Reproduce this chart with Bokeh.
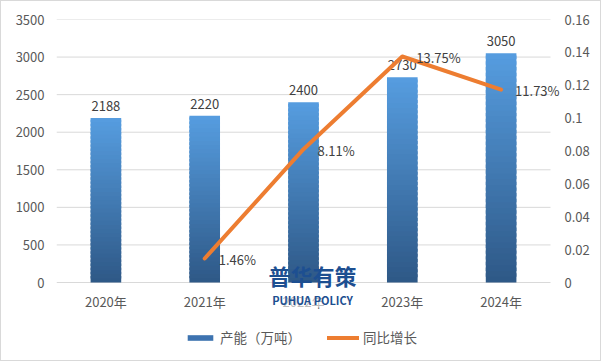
from bokeh.plotting import figure
from bokeh.models import (ColumnDataSource, Range1d, LinearAxis, FixedTicker,
                          Legend, LegendItem, Label)
from bokeh.core.properties import value
from bokeh.embed import file_html
from bokeh.resources import INLINE

# ---- data ----
years = ["2020年", "2021年", "2022年", "2023年", "2024年"]
capacity = [2188, 2220, 2400, 2730, 3050]
growth_years = ["2021年", "2022年", "2023年", "2024年"]
growth = [0.0146, 0.0811, 0.1375, 0.1173]
growth_labels = ["1.46%", "8.11%", "13.75%", "11.73%"]
left_ticks = [0, 500, 1000, 1500, 2000, 2500, 3000, 3500]
right_ticks = [0, 0.02, 0.04, 0.06, 0.08, 0.1, 0.12, 0.14, 0.16]
right_tick_labels = ["0", "0.02", "0.04", "0.06", "0.08", "0.1", "0.12", "0.14", "0.16"]

FONT = "Noto Sans CJK SC"
TICK_COLOR = "#595959"
LABEL_COLOR = "#404040"

# ---- layout constants (pixels) ----
W, H = 601, 361
FL, FR, FT, FB = 55, 560, 18, 356      # frame edges
PLOT_W = 494                          # width used by the 5 categories
PLOT_H = 263                          # height used by the 0..3500 scale
LEFT_MAX, RIGHT_MAX = 3500, 0.16

n = len(years)
xi = list(range(n))
gx = [years.index(y) for y in growth_years]

x_start = -0.5
x_end = x_start + (FR - FL) * n / PLOT_W
y_start = LEFT_MAX - (FB - FT) * LEFT_MAX / PLOT_H
p_start = RIGHT_MAX - (FB - FT) * RIGHT_MAX / PLOT_H

p = figure(x_range=Range1d(x_start, x_end), y_range=Range1d(y_start, LEFT_MAX),
           width=W, height=H, output_backend="svg", toolbar_location=None,
           min_border_left=FL, min_border_right=W - FR, min_border_top=FT,
           min_border_bottom=H - FB,
           styles={"border": "1px solid #d9d9d9", "box-sizing": "border-box"})
p.outline_line_color = None
p.background_fill_color = "white"
p.border_fill_color = "white"
p.extra_y_ranges = {"pct": Range1d(p_start, RIGHT_MAX)}

# gridlines over the category span
p.segment(x0=[x_start] * len(left_ticks), x1=[n - 0.5] * len(left_ticks),
          y0=left_ticks, y1=left_ticks, line_color="#d9d9d9", line_width=1)

# gradient bars: each bar split into slices, light at top, dark at bottom
N = 40
top_rgb = (86, 157, 224)
bot_rgb = (46, 88, 134)
xs, bottoms, tops, colors = [], [], [], []
for i_bar, v in zip(xi, capacity):
    for i in range(N):
        f = (i + 0.5) / N
        c = tuple(int(round(bot_rgb[k] + (top_rgb[k] - bot_rgb[k]) * f)) for k in range(3))
        xs.append(i_bar)
        bottoms.append(v * i / N)
        tops.append(min(v, v * (i + 1.6) / N))
        colors.append("#%02x%02x%02x" % c)
bar_src = ColumnDataSource(dict(x=xs, bottom=bottoms, top=tops, color=colors))
p.vbar(x="x", bottom="bottom", top="top", width=0.31, source=bar_src,
       fill_color="color", line_color=None)

# legend swatch renderer (zero-height, only for the legend)
swatch = p.vbar(x=[0], top=[0], bottom=[0], width=0.31,
                fill_color="#3d73b0", line_color=None)

# bar value labels
p.text(x=xi, y=capacity, text=[str(v) for v in capacity],
       text_font=value(FONT), text_font_size="13px", text_color=LABEL_COLOR,
       text_align="center", text_baseline="bottom", y_offset=-7)

# category labels
p.text(x=xi, y=[0] * n, text=years, y_offset=19,
       text_font=value(FONT), text_font_size="13px", text_color=TICK_COLOR,
       text_align="center", text_baseline="middle")

# growth line
line = p.line(x=gx, y=growth, y_range_name="pct",
              line_color="#ED7D31", line_width=4, line_cap="round", line_join="round")
p.text(x=gx, y=growth, text=growth_labels, y_range_name="pct",
       text_font=value(FONT), text_font_size="13px", text_color=LABEL_COLOR,
       text_align="left", text_baseline="middle", x_offset=14, y_offset=1)

# axes
p.xaxis.visible = False
p.xgrid.grid_line_color = None
p.ygrid.grid_line_color = None
p.yaxis.ticker = FixedTicker(ticks=left_ticks)
right_axis = LinearAxis(y_range_name="pct", ticker=FixedTicker(ticks=right_ticks),
                        major_label_overrides={t: l for t, l in zip(right_ticks, right_tick_labels)})
p.add_layout(right_axis, "right")

for ax in [p.yaxis[0], right_axis]:
    ax.axis_line_color = None
    ax.major_tick_line_color = None
    ax.minor_tick_line_color = None
    ax.major_tick_out = 0
    ax.major_tick_in = 0
    ax.major_label_text_font = FONT
    ax.major_label_text_font_size = "13px"
    ax.major_label_text_color = TICK_COLOR
p.yaxis[0].major_label_standoff = 12
right_axis.major_label_standoff = 3

# legend
legend = Legend(items=[LegendItem(label="产能（万吨）", renderers=[swatch]),
                       LegendItem(label="同比增长", renderers=[line])],
                orientation="horizontal", location=(183 - FL, 10),
                glyph_width=32, glyph_height=7, label_height=14,
                label_standoff=4, spacing=26, padding=0, margin=0,
                border_line_color=None, background_fill_alpha=0,
                label_text_font=FONT, label_text_font_size="13.5px",
                label_text_color=TICK_COLOR)
p.add_layout(legend, "center")

# watermark
p.add_layout(Label(x=2, y=0, x_offset=9, y_offset=-8, text="普华有策",
                   text_font=FONT, text_font_size="22px", text_font_style="bold",
                   text_color="#1d4f91", text_align="center", text_baseline="bottom"))
p.add_layout(Label(x=2, y=0, x_offset=9, y_offset=-17, text="PUHUA POLICY",
                   text_font=FONT, text_font_size="11px", text_font_style="bold",
                   text_color="#1d4f91", text_align="center", text_baseline="middle",
                   background_fill_color="white", background_fill_alpha=0.6))

open("out.html", "w").write(file_html(p, INLINE))
